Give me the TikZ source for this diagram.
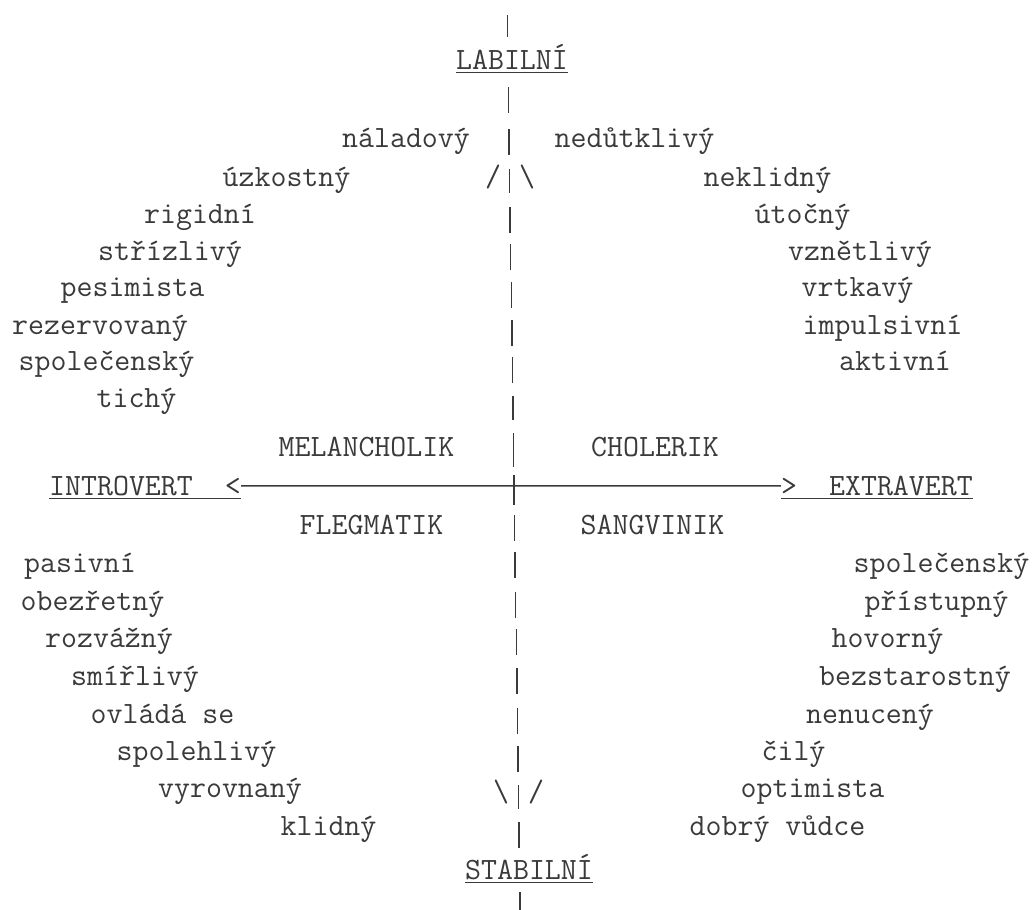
\documentclass[tikz,border=0pt]{standalone}
\usepackage{fontspec}
\usepackage{tikz}
\definecolor{ink}{HTML}{3A3A3A}
\tikzset{
  word/.style={font=\ttfamily\fontsize{15.5}{18}\selectfont, text=ink, inner sep=0pt, anchor=mid},
  uline/.style={draw=ink, line width=0.6pt},
  axis/.style={draw=ink, line width=0.7pt},
}

\begin{document}
\begin{tikzpicture}[x=0.5pt, y=-0.5pt]
  \useasboundingbox (0,0) rectangle (1034,910);
  % typed bars of the vertical axis
  \foreach \y/\h in {26/11, 100/13, 142/13, 181/12, 220/13, 257/13, 295/13, 333/13, 370/13, 408/12,
                     450/17, 490/15, 528/13, 565/13, 605/13, 642/13, 681/13, 721/13, 759/13, 797/12,
                     835/13, 901/9}
    \draw[axis] ({507+0.0145*\y},\y-\h) -- ({507+0.0145*\y},\y+\h);

  \node[word] (lab)  at (512,65)  {LABILNÍ};
  \node[word] (stab) at (529,875) {STABILNÍ};
  \node[word] (mel)  at (366.5,452) {MELANCHOLIK};
  \node[word] (cho)  at (655,452)   {CHOLERIK};
  \node[word] (fle)  at (371.5,530) {FLEGMATIK};
  \node[word] (san)  at (652.5,530) {SANGVINIK};
  \node[word] (intro) at (145,491) {INTROVERT~~<};
  \node[word] (extra) at (877,491) {>~~EXTRAVERT};
  \draw[axis] (intro.east) -- (extra.west);
  \foreach \n in {lab, stab, intro, extra}
    \draw[uline] ([yshift=-1.5pt]\n.base west) -- ([yshift=-1.5pt]\n.base east);

  \node[word] (sla) at (493,182) {/};
  \node[word] (slb) at (527,182) {\textbackslash};
  \node[word] (slc) at (501,797) {\textbackslash};
  \node[word] (sld) at (536,797) {/};

  % melancholik / flegmatik side
  \foreach \n/\x/\y/\t in {nal/406/143/náladový, uzk/286.5/182/úzkostný, rig/200/219/rigidní,
      str/170/256/střízlivý, pes/132.5/292/pesimista, rez/100/330/rezervovaný,
      lspo/106.5/366/společenský, tic/136.5/403/tichý,
      pas/80/568/pasivní, obe/92.5/606/obezřetný, roz/109/643/rozvážný, smi/135/681/smířlivý,
      ovl/162.5/719/ovládá se, spo/196.5/756/spolehlivý, vyr/230/793/vyrovnaný, kli/328.5/831/klidný}
    \node[word] (\n) at (\x,\y) {\t};

  % cholerik / sangvinik side
  \foreach \n/\x/\y/\t in {ned/634.5/143/nedůtklivý, nek/767.5/182/neklidný, uto/802.5/219/útočný,
      vzn/860/256/vznětlivý, vrt/857.5/292/vrtkavý, imp/882.5/330/impulsivní, akt/895/366/aktivní,
      rspo/941.5/568/společenský, pri/936.5/606/přístupný, hov/887.5/643/hovorný,
      bez/915/681/bezstarostný, nen/870/719/nenucený, cil/793.5/756/čilý,
      opt/812.5/793/optimista, dob/777.5/831/dobrý vůdce}
    \node[word] (\n) at (\x,\y) {\t};
\end{tikzpicture}
\end{document}
